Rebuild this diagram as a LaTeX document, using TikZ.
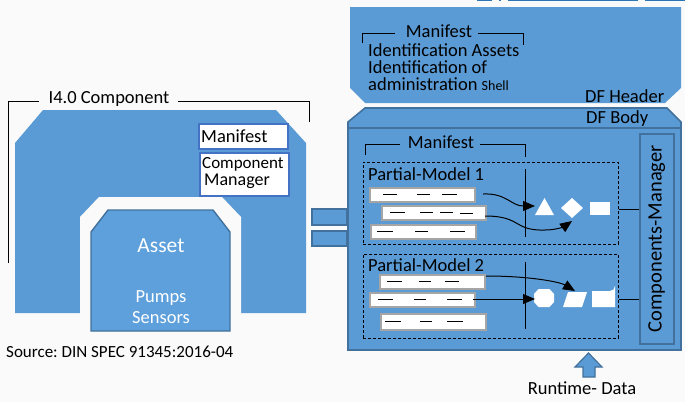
\documentclass[tikz,border=0pt]{standalone}
\usepackage{fontspec}
\setmainfont{Carlito}
\usetikzlibrary{arrows.meta}
\definecolor{cblue}{HTML}{5B9BD5}
\definecolor{cblueb}{HTML}{5EA0DB}
\definecolor{cdark}{HTML}{41719C}
\definecolor{cbox}{HTML}{4472C4}
\definecolor{cbg}{HTML}{FAFAFA}
\definecolor{cbar}{HTML}{A5A5A5}
\definecolor{ctop}{HTML}{2E75B6}
\newcommand\myfs[1]{\fontsize{#1}{#1}\selectfont}
\frenchspacing
\tikzset{
  txt/.style={inner sep=0pt, font=\myfs{18.5}},
  wtxt/.style={txt, text=white},
  brk/.style={draw=black, line width=0.9pt},
  blk/.style={fill=cblue},
  blkb/.style={fill=cblue, draw=cdark, line width=1.6pt},
  wbox/.style={fill=white, draw=cbox, line width=2pt, inner sep=0pt},
  barbox/.style={fill=white, draw=cbar, line width=2pt, inner sep=0pt, minimum height=14pt},
  dsh/.style={draw=black, line width=0.9pt},
  dbox/.style={draw=black, dashed, dash pattern=on 3pt off 2pt, line width=0.8pt, inner sep=0pt},
  vbar/.style={draw=black, line width=1pt},
  arr/.style={draw=black, line width=1pt, -{Triangle[length=12pt,width=10pt]}},
  wshape/.style={fill=white},
  conn/.style={draw=black, line width=1pt}
}
\begin{document}
\begin{tikzpicture}[x=1pt,y=-1pt]
\fill[cbg] (0,0) rectangle (685,402);
\useasboundingbox (0,0) rectangle (685,402);

% top edge artifacts
\fill[ctop] (477,0) rectangle (492,1.3);
\fill[ctop] (499,0) rectangle (500.5,1.3);
\fill[ctop] (508,0) rectangle (638,1.3);
\fill[ctop] (645,0) rectangle (685,1.3);

% ---------- I4.0 component ----------
\path[blk] (15,143) -- (43,110) -- (276,110) -- (306,143) -- (306,313) -- (15,313) -- cycle;
\path[fill=cbg] (80,217) -- (99,197) -- (222,197) -- (241,217) -- (241,314) -- (80,314) -- cycle;
\path[fill=cblueb, draw=cdark, line width=1.4pt] (91,232) -- (108,210) -- (213,210) -- (230,232) -- (230,331) -- (91,331) -- cycle;
\node[wtxt, font=\myfs{21.5}, anchor=base] (asset) at (161,252) {Asset};
\node[wtxt, anchor=base] (pumps) at (161,302) {Pumps};
\node[wtxt, anchor=base] (sensors) at (161,323) {Sensors};

\node[txt, anchor=base] (i40) at (109,103) {I4.0 Component};
\draw[brk] (8,263) -- (8,101) -- (39,101);
\draw[brk] (178,101) -- (309,101) -- (309,122);

\node[wbox, minimum width=89pt, minimum height=25pt, anchor=north west] (man1) at (198,123) {};
\node[txt, anchor=base west] (man1t) at (201,142) {Manifest};
\node[wbox, minimum width=89pt, minimum height=43pt, anchor=north west] (cmg) at (199,152) {};
\node[txt, font=\myfs{17}, anchor=base west] (cmg1) at (202,168) {Component};
\node[txt, font=\myfs{18}, anchor=base west] (cmg2) at (204,185) {Manager};

% small connecting rectangles
\node[blkb, minimum width=35pt, minimum height=16pt, inner sep=0pt, anchor=north west] (r1) at (311,208) {};
\node[blkb, minimum width=35pt, minimum height=15pt, inner sep=0pt, anchor=north west] (r2) at (311,230) {};

% ---------- DF header ----------
\path[blk] (350,7) -- (681,7) -- (681,88) -- (665,103) -- (365,103) -- (350,88) -- cycle;
\node[txt, anchor=base] (hman) at (439,37) {Manifest};
\draw[brk] (362,43) -- (362,33) -- (395,33);
\draw[brk] (478,33) -- (523,33) -- (523,45);
\node[txt, anchor=base west] (h1) at (368,56) {Identification Assets};
\node[txt, anchor=base west] (h2) at (368,73) {Identification of};
\node[txt, anchor=base west] (h3) at (368,90) {administration {\myfs{14}Shell}};
\node[txt, anchor=base west] (dfh) at (585,102) {DF Header};

% ---------- DF body ----------
\path[blkb] (348,122) -- (365,108) -- (667,108) -- (681,122) -- (681,350) -- (348,350) -- cycle;
\draw[draw=cdark, line width=1.6pt] (348,128) -- (681,128);
\node[txt, anchor=base west] (dfb) at (586,123) {DF Body};

\node[txt, anchor=base] (bman) at (441,148) {Manifest};
\draw[brk] (365,155) -- (365,144) -- (400,144);
\draw[brk] (480,144) -- (525,144) -- (525,157);

% components manager
\node[blkb, minimum width=34pt, minimum height=210pt, inner sep=0pt, anchor=north west] (cm) at (639,133) {};
\node[txt, font=\myfs{20.5}, rotate=90] (cmt) at (cm.center) {Components-Manager};

% partial model 1
\node[dbox, minimum width=255pt, minimum height=82pt, anchor=north west] (pm1) at (363,162) {};
\node[txt, anchor=base west] (pm1t) at (368,180) {Partial-Model 1};
\node[barbox, minimum width=105pt, anchor=north west] (b11) at (369,187) {};
\node[barbox, minimum width=104pt, anchor=north west] (b12) at (381,205) {};
\node[barbox, minimum width=105pt, anchor=north west] (b13) at (370,224) {};
\draw[dsh] (383,194) -- (397,194) (417,194) -- (430,194) (442,194) -- (457,194);
\draw[dsh] (390,212) -- (405,212) (420,212) -- (433,212) (440,212) -- (453,212) (460,213.5) -- (473,213.5);
\draw[dsh] (377,231) -- (393,231) (415,231) -- (428,231) (450,231) -- (465,231);
\draw[vbar] (525,169) -- (525,237);
\path[wshape] (535,215) -- (554,215) -- (544.5,198) -- cycle;
\path[wshape] (561,208) -- (572,198) -- (583,208) -- (572,218) -- cycle;
\node[fill=white, inner sep=0pt, minimum width=20pt, minimum height=13pt, anchor=north west] (sq1) at (590,202) {};
\coordinate (a1s) at (483,194);
\coordinate (a1e) at (535,206);
\coordinate (a2s) at (485,216);
\coordinate (a2e) at (572,221);
\draw[arr] (a1s) .. controls (507,193) and (511,206) .. (a1e);
\draw[arr] (a2s) .. controls (522,216) and (513,231) .. (545,230) .. controls (557,230) and (565,226) .. (a2e);
\draw[conn] (pm1.east |- 0,209) -- (cm.west |- 0,209);

% partial model 2
\node[dbox, minimum width=255pt, minimum height=84pt, anchor=north west] (pm2) at (363,254) {};
\node[txt, anchor=base west] (pm2t) at (368,271) {Partial-Model 2};
\node[barbox, minimum width=105pt, anchor=north west] (b21) at (379,274) {};
\node[barbox, minimum width=105pt, anchor=north west] (b22) at (369,292) {};
\node[barbox, minimum width=105pt, minimum height=16pt, anchor=north west] (b23) at (380,313) {};
\draw[dsh] (387,281) -- (402,281) (419,281) -- (431,281) (445,281) -- (459,281);
\draw[dsh] (378,299) -- (393,299) (414,299) -- (426,299) (447,299) -- (462,299);
\draw[dsh] (385,321) -- (401,321) (420,321) -- (432,321) (447,321) -- (463,321);
\draw[vbar] (525,262) -- (525,329);
\path[wshape] (534,294) -- (538.5,289) -- (549.5,289) -- (554,294) -- (554,302) -- (549.5,307) -- (538.5,307) -- (534,302) -- cycle;
\path[wshape] (568,292) -- (587,292) -- (582,307) -- (563,307) -- cycle;
\path[wshape] (592,291) -- (610,291) arc[start angle=90, end angle=0, radius=5] -- (615,307) -- (592,307) -- cycle;
\coordinate (a3s) at (486,276);
\coordinate (a3e) at (575,291);
\coordinate (a4s) at (473,299);
\coordinate (a4e) at (535,299);
\draw[arr] (a3s) .. controls (530,276) and (560,282) .. (a3e);
\draw[arr] (a4s) -- (a4e);
\draw[conn] (pm2.east |- 0,299) -- (cm.west |- 0,299);

% runtime data arrow
\path[blkb, line width=1.2pt] (575,367) -- (588.5,353) -- (602,367) -- (595,367) -- (595,377) -- (583,377) -- (583,367) -- cycle;
\node[txt, anchor=base] (rt) at (582,394) {Runtime- Data};

% source
\node[txt, font=\myfs{17}, anchor=base west] (src) at (6,357) {Source: DIN SPEC 91345:2016-04};
\end{tikzpicture}
\end{document}
